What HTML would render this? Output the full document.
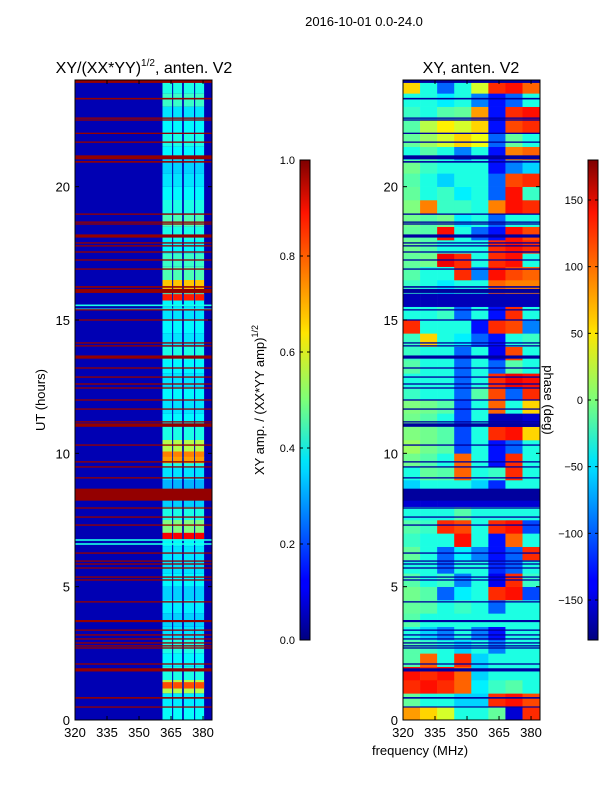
<!DOCTYPE html>
<html><head><meta charset="utf-8"><style>
body{margin:0;background:#fff;width:600px;height:800px;overflow:hidden;font-family:"Liberation Sans",sans-serif}
svg text{font-family:"Liberation Sans",sans-serif;fill:#000}
</style></head><body>
<svg id="fig" width="600" height="800" xmlns="http://www.w3.org/2000/svg">
<defs>
<linearGradient id="jet" x1="0" y1="1" x2="0" y2="0">
<stop offset="0" stop-color="#00007f"/><stop offset="0.11" stop-color="#0000ff"/><stop offset="0.125" stop-color="#0000ff"/>
<stop offset="0.35" stop-color="#00d5ff"/><stop offset="0.375" stop-color="#00e5f8"/><stop offset="0.5" stop-color="#7cff79"/>
<stop offset="0.64" stop-color="#ffe600"/><stop offset="0.66" stop-color="#ffd200"/><stop offset="0.89" stop-color="#ff1300"/><stop offset="1" stop-color="#7f0000"/>
</linearGradient>
</defs>
<text x="364" y="26" font-size="13" text-anchor="middle">2016-10-01 0.0-24.0</text>
<text x="144" y="73" font-size="16" text-anchor="middle">XY/(XX*YY)<tspan font-size="10" dy="-7">1/2</tspan><tspan dy="7">, anten. V2</tspan></text>
<text x="471" y="73" font-size="16" text-anchor="middle">XY, anten. V2</text>
<text x="45" y="400" font-size="13" text-anchor="middle" transform="rotate(-90 45 400)">UT (hours)</text>
<text x="420" y="755" font-size="13" text-anchor="middle">frequency (MHz)</text>
<text x="264" y="400" font-size="13" text-anchor="middle" transform="rotate(-90 264 400)">XY amp. / (XX*YY amp)<tspan font-size="9" dy="-6">1/2</tspan></text>
<g id="left"></g>
<g id="right"></g>
<g id="axes"></g>
<text x="544" y="400" font-size="13" text-anchor="middle" transform="rotate(90 544 400)">phase (deg)</text>
<rect x="300" y="160" width="10" height="480" fill="url(#jet)" stroke="#000" stroke-width="1"/>
<rect x="588" y="160" width="10" height="480" fill="url(#jet)" stroke="#000" stroke-width="1"/>
<g id="cbticks"></g>
</svg>
<script>
// ---- data ----
const ampTicks=[0.0,0.2,0.4,0.6,0.8,1.0];
const phaseTicks=[-150,-100,-50,0,50,100,150];
const hourTicks=[0,5,10,15,20];
const freqTicks=[320,335,350,365,380];
const flagHours=[23.94,23.3,22.57,22.5,22.0,21.67,21.1,20.93,18.97,18.67,18.6,18.15,17.89,17.78,17.55,17.25,16.91,16.24,16.09,15.38,15.0,14.14,14.03,13.61,13.2,12.86,12.6,12.45,12.0,11.66,11.18,11.06,10.31,9.68,9.49,9.08,8.45,7.95,7.61,7.31,6.26,5.96,5.85,5.7,5.36,5.25,4.43,3.71,3.37,3.19,3.04,2.89,2.78,2.7,2.1,1.88,0.83,0.49];
const flagWidth=[0.1,0.06,0.05,0.05,0.05,0.05,0.15,0.06,0.05,0.05,0.05,0.12,0.05,0.05,0.05,0.05,0.05,0.06,0.15,0.05,0.05,0.05,0.05,0.12,0.05,0.05,0.05,0.05,0.05,0.05,0.05,0.13,0.05,0.05,0.05,0.05,0.45,0.05,0.05,0.05,0.05,0.05,0.05,0.05,0.05,0.05,0.05,0.08,0.05,0.05,0.05,0.05,0.05,0.05,0.05,0.12,0.06,0.04];
const bandLo=[361,366,371,376.3];
const bandHi=[365.5,370.2,375.8,380.5];
const bandAmp=[0.38,0.36,0.55,0.4,0.37,0.4,0.35,0.33,0.36,0.33,0.37,0.35,0.35,0.37,0.5,0.4,0.33,0.3,0.35,0.4,0.55,0.4,0.37,0.35,0.37,0.35,0.37,0.4,0.35,0.37,0.35,0.37,0.68,0.45,0.43,0.37,0.4,0.45,0.4,0.37,0.35,0.33,0.37,0.4,0.37,0.35,0.43,0.4];
const hotHours=[15.85,9.95,9.75,6.9,1.3];
const hotAmp=[0.85,0.75,0.72,0.88,0.8];
const hotCyanHours=[15.55,15.4,6.75,6.6];
const phase=[
[80,60,30,-35,-35,-10,-150,120],[-10,-35,-35,-60,-60,120,130,110],
[120,130,120,100,-50,-25,-15,-35],[130,120,130,100,-60,-35,-35,-35],
[-15,100,-35,120,-60,-35,-35,-35],[-15,-25,-35,-60,-35,-90,-35,-35],
[-35,-60,-90,-35,-90,-130,-35,-35],[-15,-35,-35,-35,-35,-35,-35,-35],
[-10,-15,-35,-25,-35,-100,-35,-35],[-5,-15,-100,-50,-35,120,130,-110],
[-15,-35,-25,-90,-35,-140,120,-25],[-35,-35,-100,-35,-35,-120,-100,-35],
[-10,-35,-100,-50,-90,-130,-100,120],[-25,-35,-35,130,-35,-130,100,-35],
[-15,-25,120,110,-35,120,130,-110],[-35,-35,-35,-15,-35,-35,-35,-35],
[-150,-150,-150,-150,-150,-150,-150,-150],[-60,-35,-35,-35,-60,-120,-35,-35],
[-35,-10,-15,100,-35,-25,120,-35],[-5,-15,-35,100,-35,-130,120,-35],
[10,-5,-15,-110,-35,-130,-100,-35],[0,-5,-15,-110,-35,120,130,60],
[-5,-15,-35,-110,-35,-160,-160,-150],[0,-5,-15,-110,-35,100,-35,60],
[-25,-35,-35,-100,-15,110,-100,120],[-35,-35,-35,-100,-35,120,140,130],
[-15,-35,-35,-100,-35,-100,-15,-35],[-25,-35,-35,-100,-35,-140,110,-35],
[-25,60,-35,-50,-100,-130,-35,-25],[120,-35,-35,-35,-130,120,110,-90],
[-35,-35,-25,-100,-35,-130,120,-35],[-160,-160,-160,-160,-160,-160,-160,-160],
[-25,-35,-50,-35,-35,100,90,90],[-15,-35,-35,120,-90,130,110,100],
[-10,-5,140,120,-35,120,130,-35],[-5,-15,-35,-35,-35,120,130,120],
[-10,-15,130,-35,-100,-130,130,110],[-5,-15,-5,-50,-35,-100,-35,-35],
[0,90,-25,-25,-35,90,130,120],[-10,-35,-25,-50,-35,-100,130,-25],
[-15,-35,-60,-35,-35,-100,110,120],[-5,-25,-35,-35,-35,-130,-90,-60],
[-35,-15,-35,-90,-35,-130,90,100],[-10,10,30,60,40,-100,-10,-35],
[-15,20,50,30,60,-130,110,120],[-25,-35,-15,-10,80,-130,120,130],
[-35,-35,-50,-35,-90,-130,-100,-35],[60,-35,-100,-35,30,120,130,100]];

// ---- scales ----
const NS='http://www.w3.org/2000/svg';
const F0=320,F1=384.2,H0=0,H1=24;
function yS(h){return 720-(h-H0)/(H1-H0)*640;}
function xL(f){return 75+(f-F0)/(F1-F0)*137;}
function xR(f){return 403+(f-F0)/(F1-F0)*137;}
function jet(v){v=Math.max(0,Math.min(1,v));
 const r=Math.max(0,Math.min(1,1.5-Math.abs(4*v-3))),g=Math.max(0,Math.min(1,1.5-Math.abs(4*v-2))),b=Math.max(0,Math.min(1,1.5-Math.abs(4*v-1)));
 return `rgb(${Math.round(r*255)},${Math.round(g*255)},${Math.round(b*255)})`;}
function mk(tag,attrs,parent){const e=document.createElementNS(NS,tag);for(const k in attrs)e.setAttribute(k,attrs[k]);parent.appendChild(e);return e;}
const L=document.getElementById('left'),R=document.getElementById('right'),A=document.getElementById('axes'),C=document.getElementById('cbticks');

let bg=mk('rect',{x:xL(F0),y:yS(H1),width:xL(F1)-xL(F0),height:yS(H0)-yS(H1),fill:jet(0.05)},L);


for(let i=0;i<bandAmp.length;i++){
 for(let b=0;b<bandLo.length;b++){
  const c=mk('rect',{x:xL(bandLo[b]),y:yS((i+1)*0.5),width:xL(bandHi[b])-xL(bandLo[b]),height:yS(i*0.5)-yS((i+1)*0.5),fill:jet(bandAmp[i])},L);
  
  
 }
}
for(let i=0;i<hotHours.length;i++){
 for(let b=0;b<bandLo.length;b++){
  const c=mk('rect',{x:xL(bandLo[b]),y:yS(hotHours[i]+0.12),width:xL(bandHi[b])-xL(bandLo[b]),height:yS(0)-yS(0.24),fill:jet(hotAmp[i])},L);
  
  
 }
}
for(let i=0;i<hotCyanHours.length;i++){
 const c=mk('rect',{x:xL(F0),y:yS(hotCyanHours[i]+0.03),width:137,height:yS(0)-yS(0.06),fill:jet(0.4)},L);
 
 
}
for(let i=0;i<flagHours.length;i++){
 const c=mk('rect',{x:xL(F0),y:yS(flagHours[i]+flagWidth[i]/2),width:137,height:Math.max(1.3,yS(0)-yS(flagWidth[i])),fill:jet(0.98)},L);
 
 
}
for(let i=0;i<phase.length;i++){
 for(let j=0;j<8;j++){
  const f=F0+j*8, f2=Math.min(F1,f+8);
  const c=mk('rect',{x:xR(f),y:yS((i+1)*0.5),width:xR(f2)-xR(f)+0.3,height:yS(i*0.5)-yS((i+1)*0.5)+0.3,fill:jet((phase[i][j]+180)/360)},R);
  
  
 }
}
for(let i=0;i<flagHours.length;i++){
 const c=mk('rect',{x:xR(F0),y:yS(flagHours[i]+flagWidth[i]/2),width:137,height:Math.max(1.2,yS(0)-yS(flagWidth[i])),fill:jet(0.03)},R);
 
 
}
[[75,'left'],[403,'right']].forEach(([x0,nm])=>{
 const fr=mk('rect',{x:x0,y:80,width:137,height:640,fill:'none',stroke:'#000','stroke-width':1},A);
 
 
 const xs=nm==='left'?xL:xR;
 freqTicks.forEach(f=>{const x=xs(f);
  mk('line',{x1:x,x2:x,y1:720,y2:716,stroke:'#000'},A);mk('line',{x1:x,x2:x,y1:80,y2:84,stroke:'#000'},A);
  const t=mk('text',{x:x,y:737,'font-size':13,'text-anchor':'middle'},A);t.textContent=f;
  
  });
 hourTicks.forEach(h=>{const y=yS(h);
  mk('line',{x1:x0,x2:x0+4,y1:y,y2:y,stroke:'#000'},A);mk('line',{x1:x0+137,x2:x0+133,y1:y,y2:y,stroke:'#000'},A);
  const t=mk('text',{x:x0-5,y:y+5,'font-size':13,'text-anchor':'end'},A);t.textContent=h;
  
  });
});
ampTicks.forEach(v=>{const y=640-v*480;
 mk('line',{x1:300,x2:303,y1:y,y2:y,stroke:'#000'},C);mk('line',{x1:310,x2:307,y1:y,y2:y,stroke:'#000'},C);
 const t=mk('text',{x:295,y:y+4,'font-size':11,'text-anchor':'end'},C);t.textContent=v.toFixed(1);
 
 });
phaseTicks.forEach(v=>{const y=640-(v+180)/360*480;
 mk('line',{x1:588,x2:591,y1:y,y2:y,stroke:'#000'},C);mk('line',{x1:598,x2:595,y1:y,y2:y,stroke:'#000'},C);
 const t=mk('text',{x:583,y:y+4,'font-size':11,'text-anchor':'end'},C);t.textContent=v<0?'\u2212'+Math.abs(v):v;
 
 });
</script>
</body></html>
